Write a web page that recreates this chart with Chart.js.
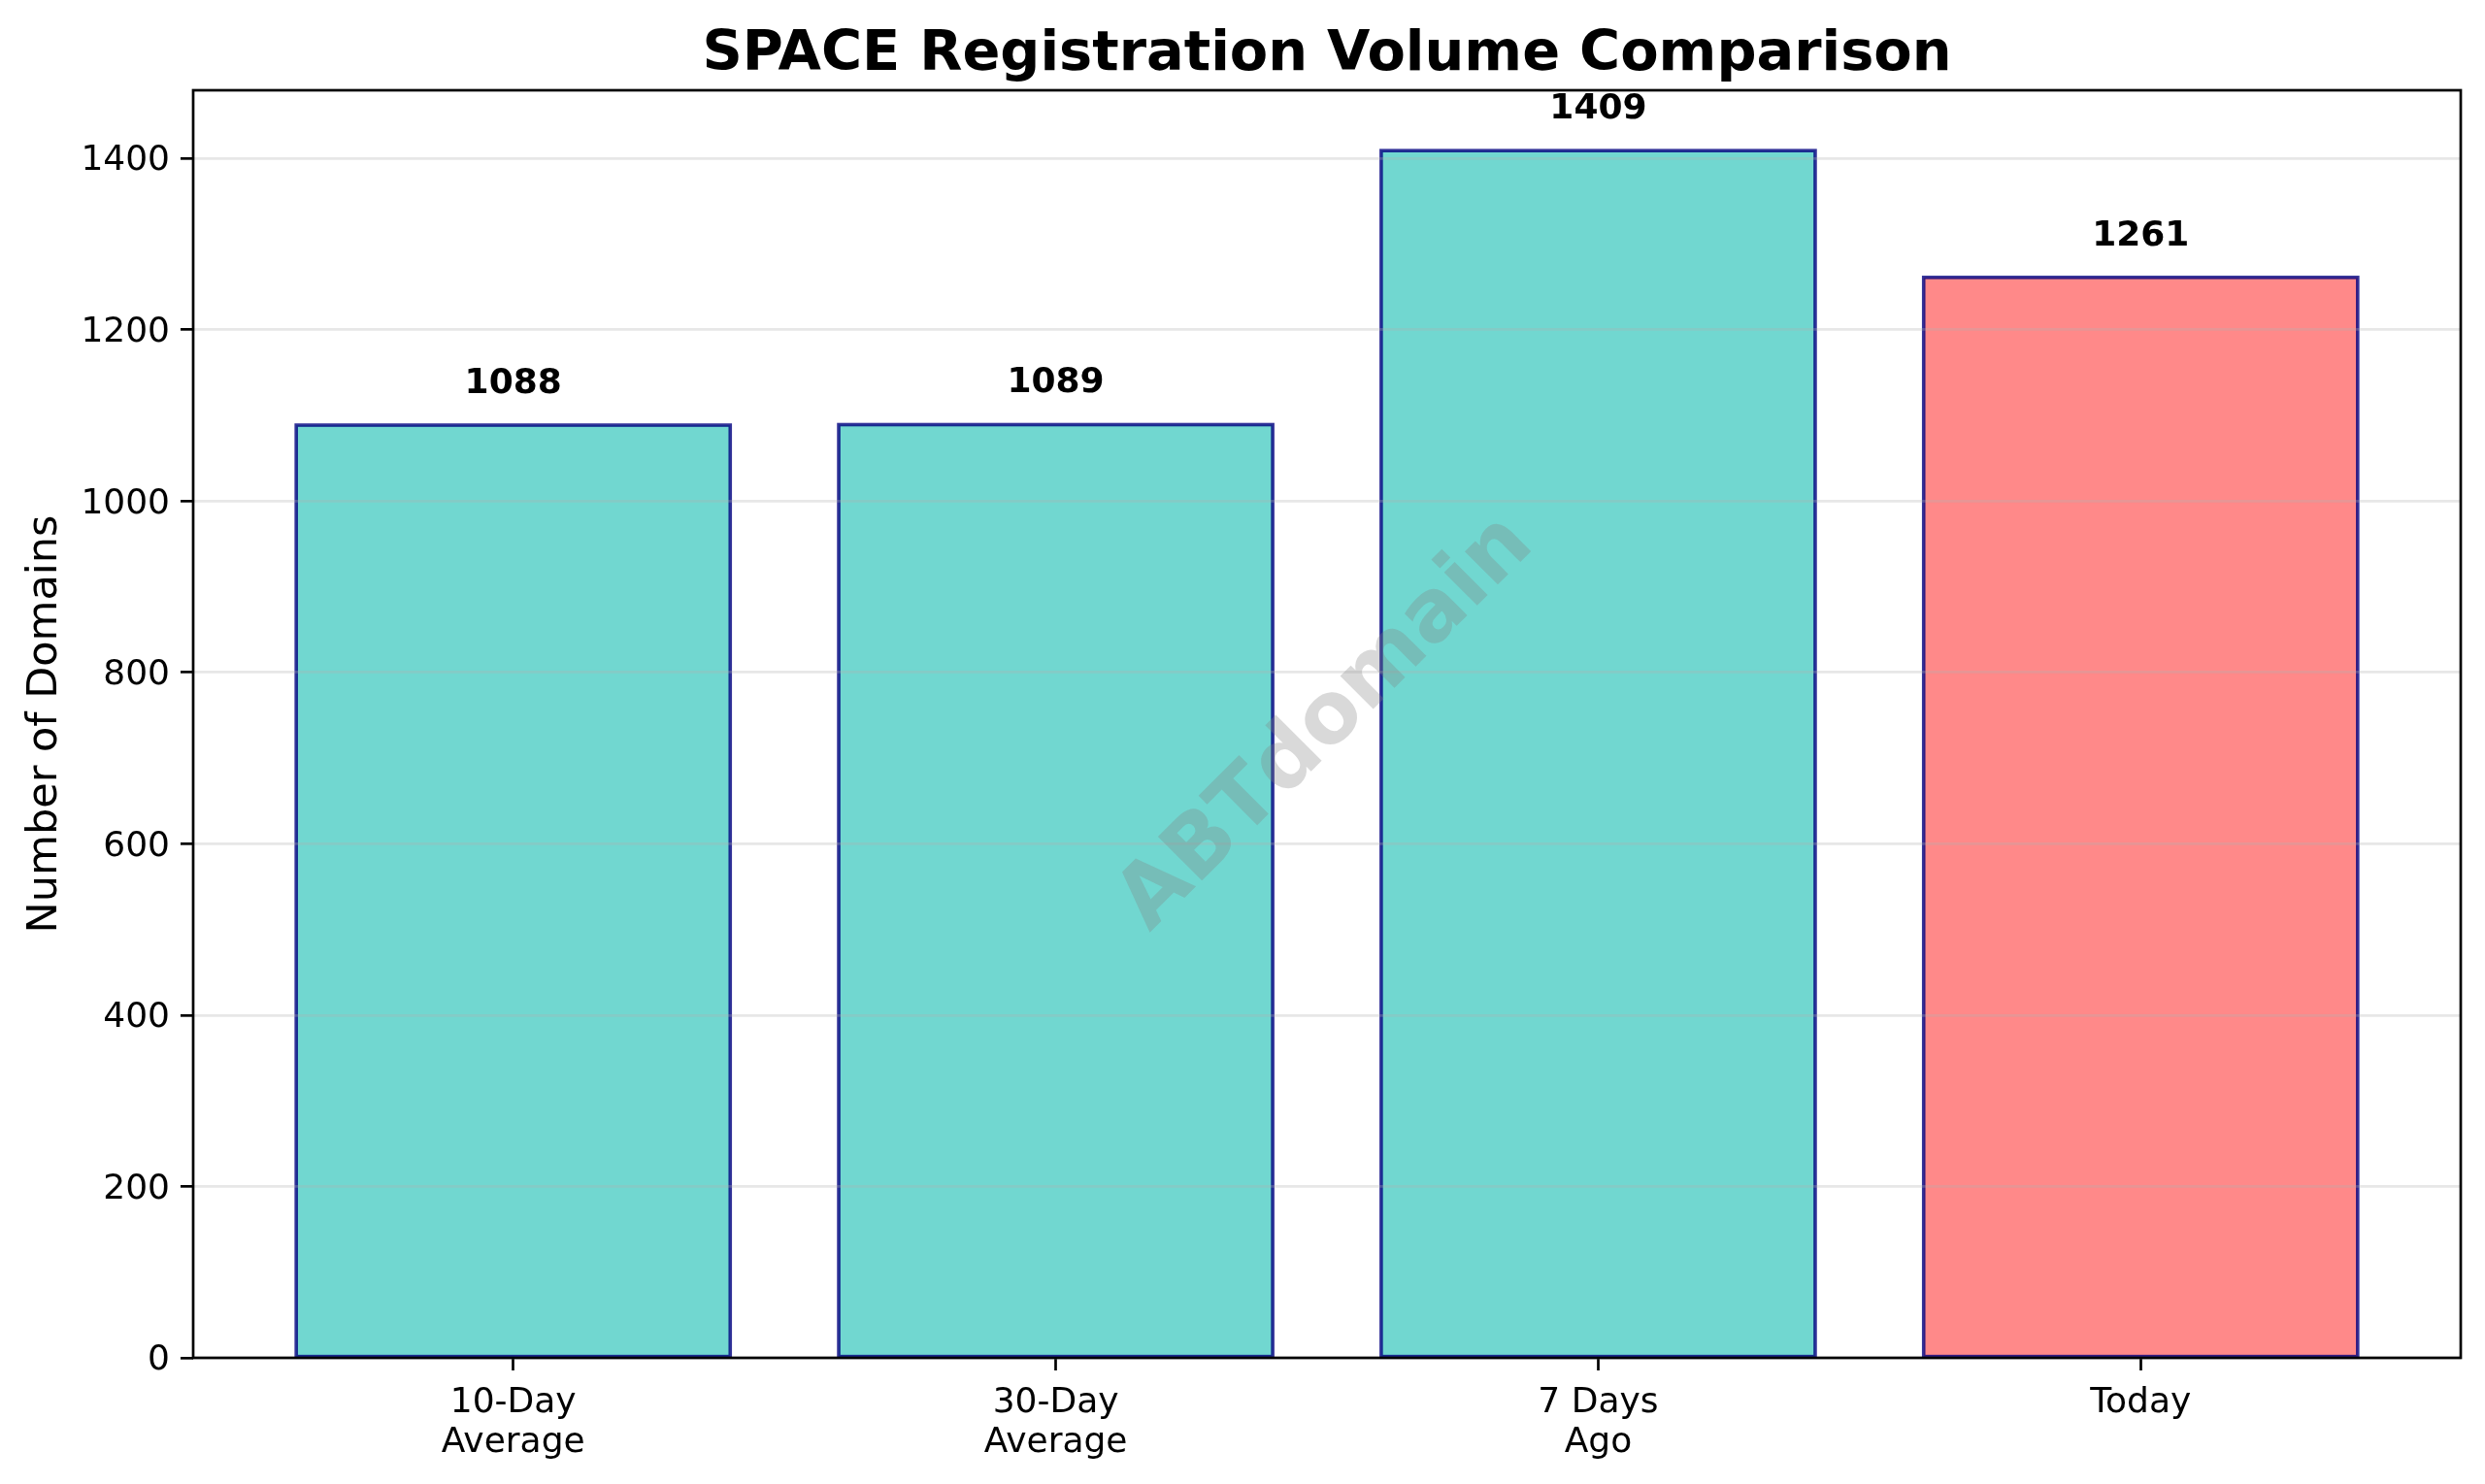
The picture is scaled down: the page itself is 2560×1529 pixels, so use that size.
<!DOCTYPE html>
<html><head><meta charset="utf-8">
<style>html,body{margin:0;padding:0;background:#fff}canvas{display:block}</style>
<script src="https://cdn.jsdelivr.net/npm/chart.js@4"></script>
</head><body><canvas id="c" width="2560" height="1529"></canvas>
<script>
const categories = [["10-Day","Average"],["30-Day","Average"],["7 Days","Ago"],["Today"]];
const volumes = [1088.6, 1089.2, 1409, 1261];
const barColors = ["rgba(78,205,196,0.8)","rgba(78,205,196,0.8)","rgba(78,205,196,0.8)","rgba(255,107,107,0.8)"];
const yMax = 1479.45;
const xMin = -0.59, xMax = 3.59;
const FONT = '"DejaVu Sans"';

const barEdges = {
  id:'barEdges',
  afterDatasetsDraw(chart){
    const {ctx, chartArea:a} = chart;
    ctx.save();
    ctx.beginPath(); ctx.rect(a.left,a.top,a.right-a.left,a.bottom-a.top); ctx.clip();
    ctx.strokeStyle='rgba(0,0,128,0.8)'; ctx.lineWidth=3.6;
    chart.getDatasetMeta(0).data.forEach(b=>{
      const p=b.getProps(['x','y','base','width'],true);
      ctx.strokeRect(p.x-p.width/2,p.y,p.width,p.base-p.y);
    });
    ctx.restore();
  }
};

const overlay = {
  id:'overlay',
  afterDraw(chart){
    const {ctx, chartArea:a, scales:{x,y}} = chart;
    ctx.save();
    ctx.strokeStyle='#000'; ctx.lineWidth=2.7;
    ctx.strokeRect(a.left,a.top,a.right-a.left,a.bottom-a.top);
    ctx.fillStyle='#000';
    ctx.font='bold 36px '+FONT;
    ctx.textAlign='center'; ctx.textBaseline='alphabetic';
    volumes.forEach((v,i)=>ctx.fillText(String(Math.floor(v)),x.getPixelForValue(i),y.getPixelForValue(v)-33));
    ctx.translate((a.left+a.right)/2,(a.top+a.bottom)/2);
    ctx.rotate(-Math.PI/4);
    ctx.fillStyle='rgba(128,128,128,0.3)';
    ctx.font='bold 88px '+FONT;
    ctx.textBaseline='middle';
    ctx.fillText('ABTdomain',0,0);
    ctx.restore();
  }
};

new Chart(document.getElementById('c'),{
  type:'bar',
  data:{datasets:[{
    data:volumes.map((v,i)=>({x:i,y:v})),
    backgroundColor:barColors,
    borderWidth:0,
    barPercentage:0.8,
    categoryPercentage:1
  }]},
  options:{
    responsive:false,animation:false,devicePixelRatio:1,
    layout:{autoPadding:false,padding:{right:25}},
    plugins:{
      legend:{display:false},tooltip:{enabled:false},
      title:{display:true,fullSize:false,text:'SPACE Registration Volume Comparison',color:'#000',
        font:{family:FONT,size:57.4,weight:'bold',lineHeight:1},padding:{top:28,bottom:7.6}}
    },
    scales:{
      x:{type:'linear',min:xMin,max:xMax,offset:false,
        afterBuildTicks(s){s.ticks=categories.map((c,i)=>({value:i}));},
        afterFit(s){s.height=130;},
        grid:{offset:false,drawOnChartArea:false,tickColor:'#000',tickWidth:2.7,tickLength:13,color:'rgba(0,0,0,0)'},
        border:{display:false},
        ticks:{autoSkip:false,maxRotation:0,minRotation:0,padding:13,color:'#000',
          font:{family:FONT,size:36,lineHeight:1.14},
          callback:(v)=>categories[v]}
      },
      y:{min:0,max:yMax,
        afterFit(s){s.width=199;},
        afterBuildTicks(s){s.ticks=s.ticks.filter(t=>t.value%200===0);},
        grid:{z:1,color:'rgba(176,176,176,0.3)',lineWidth:2.7,tickColor:'#000',tickWidth:2.7,tickLength:13},
        border:{display:false},
        ticks:{stepSize:200,padding:11,labelOffset:3,color:'#000',font:{family:FONT,size:36},callback:(v)=>String(v)},
        title:{display:true,text:'Number of Domains',color:'#000',font:{family:FONT,size:43},padding:{top:21.5,bottom:0}}
      }
    }
  },
  plugins:[barEdges,overlay]
});
</script></body></html>
